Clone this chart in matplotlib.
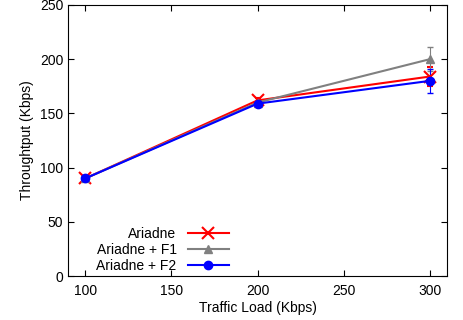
import numpy as np
import matplotlib.pyplot as plt

plt.rcParams['font.family'] = ['Liberation Sans', 'DejaVu Sans']

load = [100, 200, 300]
ariadne = [90, 162, 184]
ariadne_err = [2, 2, 9]
f1 = [90, 160, 200]
f1_err = [2, 2, 11]
f2 = [90, 159, 180]
f2_err = [2, 2, 11]

fig = plt.figure(figsize=(4.64, 3.2), dpi=100)
ax = fig.add_axes([68 / 464, 44 / 320, 379 / 464, 271 / 320])

e1 = ax.errorbar(load, ariadne, yerr=ariadne_err, color='red', marker='x', ms=8, mew=1.5,
                 lw=1.5, capsize=2, elinewidth=0.8)
e2 = ax.errorbar(load, f1, yerr=f1_err, color='gray', marker='^', ms=6,
                 lw=1.5, capsize=2, elinewidth=0.8)
e3 = ax.errorbar(load, f2, yerr=f2_err, color='blue', marker='o', ms=6,
                 lw=1.5, capsize=2, elinewidth=0.8)

ax.set_xlim(90, 310)
ax.set_ylim(0, 250)
ax.set_xticks([100, 150, 200, 250, 300])
ax.set_yticks([0, 50, 100, 150, 200, 250])
ax.tick_params(direction='in', top=True, right=True, labelsize=10, length=4)
ax.tick_params(axis='x', pad=6)
ax.set_xlabel('Traffic Load (Kbps)', fontsize=10, labelpad=2)
ax.set_ylabel('Throughtput (Kbps)', fontsize=10, labelpad=4)

# legend shows only line + marker, no error bars
ax.legend([e1[0], e2[0], e3[0]], ['Ariadne', 'Ariadne + F1', 'Ariadne + F2'],
          loc='lower left', frameon=False, markerfirst=False, fontsize=10,
          handlelength=3.0, borderaxespad=0.0, labelspacing=0.15,
          bbox_to_anchor=(0.06, -0.01))

fig.savefig('out.png')
